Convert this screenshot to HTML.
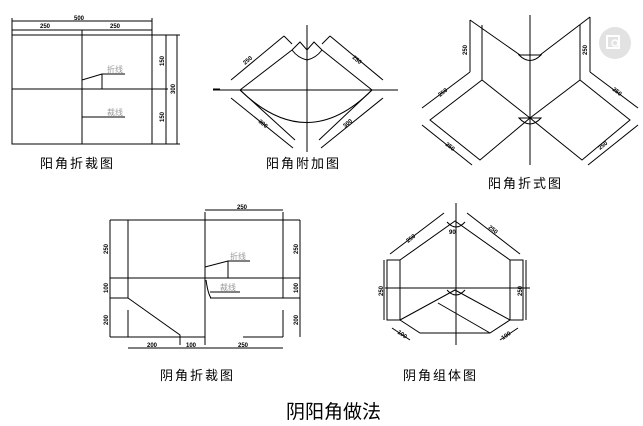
<!DOCTYPE html>
<html><head><meta charset="utf-8"><style>
html,body{margin:0;padding:0;background:#fff;}
svg{display:block}
text{font-family:"Liberation Sans","Noto Sans CJK SC",sans-serif;}
.d{font-size:6px;fill:#000;font-weight:bold}
.c{font-size:13px;fill:#000;letter-spacing:2px}
.g{font-size:8px;fill:#999}
</style></head><body>
<svg width="643" height="426" viewBox="0 0 643 426" xmlns="http://www.w3.org/2000/svg">
<g stroke="#000" stroke-width="1" fill="none">
<rect x="12" y="35" width="140" height="109"/>
<line x1="82" y1="30" x2="82" y2="144"/>
<line x1="12" y1="89" x2="168" y2="89"/>
<line x1="12" y1="18" x2="12" y2="35"/><line x1="152" y1="18" x2="152" y2="35"/>
<line x1="12" y1="21" x2="152" y2="21"/><line x1="12" y1="30" x2="152" y2="30"/>
<line x1="152" y1="35" x2="180" y2="35"/><line x1="152" y1="144" x2="180" y2="144"/>
<line x1="166" y1="35" x2="166" y2="144"/><line x1="177" y1="35" x2="177" y2="144"/>
<polyline points="82,80 102,74 125,74"/><line x1="102" y1="74" x2="102" y2="89"/>
<line x1="82" y1="117" x2="125" y2="117"/>
<line x1="213" y1="89" x2="220" y2="89"/>
<line x1="307" y1="25" x2="307" y2="152"/>
<line x1="213" y1="90" x2="398" y2="90"/>
<polyline points="240,90 292,50"/><path d="M292,50 Q298,58 307,60 Q316,58 322,50"/><polyline points="322,50 372,90"/>
<polyline points="292,50 300,42 307,50 314,42 322,50"/>
<line x1="231" y1="80" x2="284" y2="36"/><line x1="330" y1="36" x2="383" y2="80"/>
<line x1="284" y1="36" x2="292" y2="44"/><line x1="330" y1="36" x2="322" y2="44"/>
<path d="M240,90 Q307,155 372,90"/>
<line x1="240" y1="90" x2="295" y2="140"/><line x1="372" y1="90" x2="319" y2="140"/>
<line x1="231" y1="98" x2="293" y2="148"/><line x1="383" y1="98" x2="321" y2="148"/>
<line x1="530" y1="15" x2="530" y2="165"/>
<line x1="470" y1="20" x2="470" y2="72"/><line x1="482" y1="25" x2="482" y2="80"/>
<line x1="470" y1="20" x2="520" y2="55"/>
<line x1="590" y1="17" x2="590" y2="72"/><line x1="580" y1="25" x2="580" y2="80"/>
<line x1="590" y1="17" x2="540" y2="55"/>
<path d="M519,55 Q530,66 541,55 Z"/>
<polygon points="482,80 430,120 480,160 530,118"/>
<polygon points="580,80 630,120 582,160 530,118"/>
<line x1="470" y1="72" x2="422" y2="108"/><line x1="590" y1="72" x2="638" y2="108"/>
<line x1="422" y1="125" x2="472" y2="165"/><line x1="638" y1="125" x2="588" y2="165"/>
<path d="M519,118 Q530,130 541,118 Z"/>
<line x1="110" y1="220" x2="300" y2="220"/>
<line x1="110" y1="220" x2="110" y2="337"/><line x1="300" y1="220" x2="300" y2="337"/>
<line x1="128" y1="220" x2="128" y2="298"/><line x1="128" y1="310" x2="128" y2="337"/>
<line x1="205" y1="212" x2="205" y2="345"/>
<line x1="283" y1="212" x2="283" y2="298"/><line x1="283" y1="310" x2="283" y2="337"/>
<line x1="205" y1="210" x2="283" y2="210"/>
<line x1="110" y1="278" x2="300" y2="278"/>
<line x1="110" y1="298" x2="128" y2="298"/><line x1="210" y1="298" x2="300" y2="298"/>
<polyline points="128,298 180,335 180,345"/>
<line x1="110" y1="337" x2="205" y2="337"/><line x1="243" y1="337" x2="283" y2="337"/>
<line x1="128" y1="348" x2="283" y2="348"/>
<polyline points="205,267 228,261 250,261"/><line x1="228" y1="261" x2="228" y2="278"/>
<path d="M206,280 Q208,294 211,298"/><line x1="210" y1="292" x2="240" y2="292"/>
<line x1="456" y1="203" x2="456" y2="345"/>
<line x1="385" y1="288" x2="530" y2="288"/>
<rect x="387" y="260" width="13" height="60"/><rect x="510" y="260" width="13" height="60"/>
<polyline points="400,260 455,221 510,260"/>
<line x1="390" y1="254" x2="444" y2="213"/><line x1="467" y1="213" x2="520" y2="254"/>
<line x1="384" y1="260" x2="384" y2="320"/><line x1="526" y1="260" x2="526" y2="320"/>
<polyline points="400,320 455,290 510,320"/>
<line x1="438" y1="303" x2="490" y2="333"/>
<polyline points="400,320 420,333 490,333 510,320"/>
<line x1="392" y1="328" x2="410" y2="340"/><line x1="518" y1="328" x2="500" y2="340"/>
<path d="M447,222 Q456,232 465,222"/><path d="M447,290 Q456,300 465,290"/>
</g>
<circle cx="615" cy="43" r="16" fill="#e2e2e2"/>
<rect x="607" y="36" width="12" height="12" fill="none" stroke="#fff" stroke-width="2"/>
<circle cx="615" cy="43" r="3" fill="none" stroke="#fff" stroke-width="1.5"/>
<text class="d" x="74" y="20">500</text>
<text class="d" x="40" y="28">250</text><text class="d" x="110" y="28">250</text>
<text class="d" x="164" y="66" transform="rotate(-90 164 66)">150</text>
<text class="d" x="164" y="122" transform="rotate(-90 164 122)">150</text>
<text class="d" x="175" y="94" transform="rotate(-90 175 94)">300</text>
<text class="g" x="107" y="72">折线</text><text class="g" x="107" y="115">裁线</text>
<text class="d" x="245" y="65" transform="rotate(-40 245 65)">250</text>
<text class="d" x="352" y="58" transform="rotate(40 352 58)">250</text>
<text class="d" x="258" y="122" transform="rotate(40 258 122)">300</text>
<text class="d" x="345" y="128" transform="rotate(-40 345 128)">300</text>
<text class="d" x="467" y="55" transform="rotate(-90 467 55)">250</text>
<text class="d" x="587" y="55" transform="rotate(-90 587 55)">250</text>
<text class="d" x="440" y="97" transform="rotate(-38 440 97)">250</text>
<text class="d" x="612" y="90" transform="rotate(38 612 90)">250</text>
<text class="d" x="445" y="145" transform="rotate(38 445 145)">250</text>
<text class="d" x="600" y="150" transform="rotate(-38 600 150)">250</text>
<text class="d" x="237" y="209">250</text>
<text class="d" x="108" y="254" transform="rotate(-90 108 254)">250</text>
<text class="d" x="108" y="293" transform="rotate(-90 108 293)">100</text>
<text class="d" x="108" y="325" transform="rotate(-90 108 325)">200</text>
<text class="d" x="298" y="254" transform="rotate(-90 298 254)">250</text>
<text class="d" x="298" y="293" transform="rotate(-90 298 293)">100</text>
<text class="d" x="298" y="325" transform="rotate(-90 298 325)">200</text>
<text class="d" x="147" y="347">200</text><text class="d" x="186" y="347">100</text><text class="d" x="238" y="347">250</text>
<text class="g" x="230" y="259">折线</text><text class="g" x="220" y="290">裁线</text>
<text class="d" x="408" y="243" transform="rotate(-38 408 243)">250</text>
<text class="d" x="488" y="228" transform="rotate(38 488 228)">250</text>
<text class="d" x="449" y="234">90</text>
<text class="d" x="383" y="296" transform="rotate(-90 383 296)">250</text>
<text class="d" x="522" y="296" transform="rotate(-90 522 296)">250</text>
<text class="d" x="397" y="333" transform="rotate(35 397 333)">100</text>
<text class="d" x="503" y="340" transform="rotate(-35 503 340)">100</text>
<text class="c" x="40" y="168">阳角折裁图</text>
<text class="c" x="266" y="168">阳角附加图</text>
<text class="c" x="488" y="188">阳角折式图</text>
<text class="c" x="160" y="380">阴角折裁图</text>
<text class="c" x="403" y="380">阴角组体图</text>
<text x="286" y="418" style="font-size:19px">阴阳角做法</text>
</svg>
</body></html>
